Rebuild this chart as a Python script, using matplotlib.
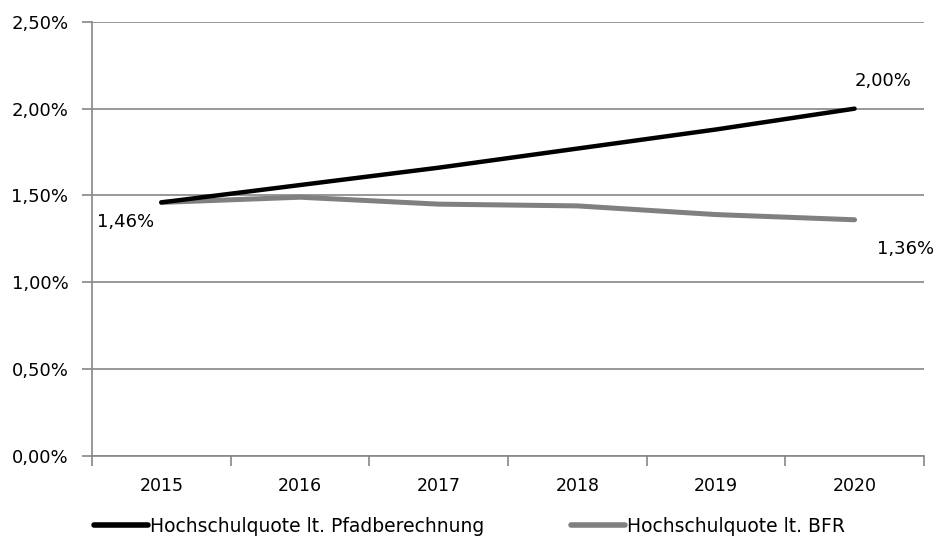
import numpy as np
import matplotlib.pyplot as plt
from matplotlib.ticker import FuncFormatter, FixedLocator

plt.rcParams['font.family'] = ['DejaVu Sans']

years = ['2015', '2016', '2017', '2018', '2019', '2020']
pfad = [1.46, 1.56, 1.66, 1.77, 1.88, 2.00]
bfr = [1.46, 1.49, 1.45, 1.44, 1.39, 1.36]

grid_col = '#868686'
fs = 12.5

fig = plt.figure(figsize=(9.41, 5.46), dpi=100)
ax = fig.add_axes([0.0978, 0.165, 0.884, 0.795])

x = np.arange(len(years))
ax.plot(x, pfad, color='black', lw=3.2, solid_capstyle='round',
        label='Hochschulquote lt. Pfadberechnung', zorder=3)
ax.plot(x, bfr, color='#808080', lw=3.6, solid_capstyle='round',
        label='Hochschulquote lt. BFR', zorder=2)

ax.set_xlim(-0.5, len(years) - 0.5)
ax.set_ylim(0, 2.5)
ax.set_yticks(np.arange(0, 2.51, 0.5))
ax.yaxis.set_major_formatter(FuncFormatter(lambda v, p: f'{v:.2f}%'.replace('.', ',')))
ax.yaxis.grid(True, color=grid_col, lw=1.2)
ax.set_axisbelow(True)

ax.set_xticks(x)
ax.set_xticklabels(years)
ax.xaxis.set_minor_locator(FixedLocator(np.arange(-0.5, len(years), 1.0)))
ax.tick_params(axis='x', which='major', length=0, pad=15, labelsize=fs)
ax.tick_params(axis='x', which='minor', length=7, width=1.2, color=grid_col, direction='out')
ax.tick_params(axis='y', length=7, width=1.2, color=grid_col, pad=10, labelsize=fs + 0.5)

for s in ['top', 'right']:
    ax.spines[s].set_visible(False)
for s in ['left', 'bottom']:
    ax.spines[s].set_color(grid_col)
    ax.spines[s].set_linewidth(1.2)

def fmt(v):
    return f'{v:.2f}%'.replace('.', ',')

ax.annotate(fmt(pfad[0]), (x[0], bfr[0]), xytext=(-46, -14), textcoords='offset points',
            fontsize=fs + 0.5, ha='left', va='center')
ax.annotate(fmt(pfad[-1]), (x[-1], pfad[-1]), xytext=(0, 20), textcoords='offset points',
            fontsize=fs + 0.5, ha='left', va='center')
ax.annotate(fmt(bfr[-1]), (x[-1], bfr[-1]), xytext=(16, -21), textcoords='offset points',
            fontsize=fs + 0.5, ha='left', va='center')

leg = fig.legend(loc='lower left', bbox_to_anchor=(0.0818, -0.012), ncol=2, frameon=False,
                 fontsize=13.5, handlelength=2.9, handletextpad=0.1, columnspacing=4.6)
for h in leg.get_lines():
    h.set_linewidth(4)

fig.savefig('out.png', dpi=100)
